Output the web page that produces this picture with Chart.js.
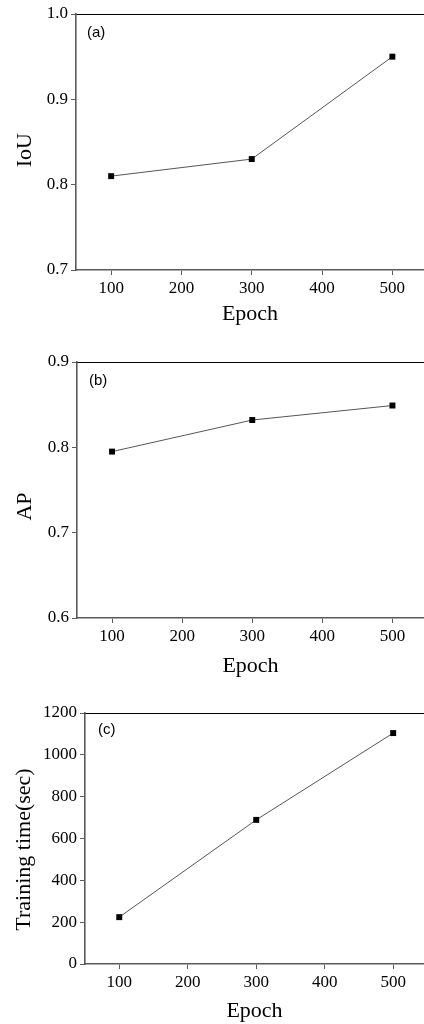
<!DOCTYPE html>
<html>
<head>
<meta charset="utf-8">
<script src="https://cdn.jsdelivr.net/npm/chart.js@4/dist/chart.umd.min.js"></script>
<style>
    html, body { margin: 0; padding: 0; background: #fff; }
    body { width: 424px; height: 1024px; position: relative; overflow: hidden; }
    .chartBox { position: absolute; left: 0; width: 424px; }
</style>
</head>
<body>
<div class="chartBox" id="boxA" style="top:0px;height:340px"><canvas id="chartA"></canvas></div>
<div class="chartBox" id="boxB" style="top:340px;height:340px"><canvas id="chartB"></canvas></div>
<div class="chartBox" id="boxC" style="top:680px;height:344px"><canvas id="chartC"></canvas></div>
<script>
// data
const epochs = [100, 300, 500];
const epochTicks = [100, 200, 300, 400, 500];
const iouVals = [0.81, 0.83, 0.95];
const iouTicks = [0.7, 0.8, 0.9, 1.0];
const apVals = [0.795, 0.832, 0.849];
const apTicks = [0.6, 0.7, 0.8, 0.9];
const timeVals = [224, 689, 1104];
const timeTicks = [0, 200, 400, 600, 800, 1000, 1200];

const serif = "'Liberation Serif', 'Times New Roman', serif";
const axisGray = "#5a5a5a";

// panel label "(a)" etc drawn in the corner of the plot
const panelLabel = {
    id: "panelLabel",
    afterDraw(chart, args, opts) {
        const ctx = chart.ctx;
        ctx.save();
        ctx.font = "15px 'Liberation Sans', Arial, sans-serif";
        ctx.fillStyle = "#000";
        ctx.textBaseline = "middle";
        ctx.fillText(opts.text, chart.chartArea.left + opts.dx, chart.chartArea.top + opts.dy);
        ctx.restore();
    }
};

function makePanel(canvasId, opt) {
    const points = epochs.map((e, i) => ({ x: e, y: opt.vals[i] }));
    return new Chart(canvasId, {
        type: "line",
        data: {
            datasets: [{
                data: points,
                borderColor: "#555",
                borderWidth: 1,
                pointStyle: "rect",
                pointRadius: 4.2,
                pointBackgroundColor: "#000",
                pointBorderColor: "#000",
                pointBorderWidth: 0,
                tension: 0
            }]
        },
        plugins: [panelLabel],
        options: {
            responsive: true,
            maintainAspectRatio: false,
            animation: false,
            layout: { autoPadding: false, padding: { top: opt.padTop, left: 0, right: 0, bottom: 0 } },
            plugins: {
                legend: { display: false },
                tooltip: { enabled: false },
                panelLabel: { text: opt.label, dx: opt.labelDx, dy: opt.labelDy }
            },
            scales: {
                x: {
                    type: "linear",
                    position: "bottom",
                    min: 50,
                    max: 545,
                    afterBuildTicks: (scale) => { scale.ticks = epochTicks.map(v => ({ value: v })); },
                    afterFit: (scale) => {
                        scale.height = opt.xAxisH;
                        scale.paddingRight = 0; // let the plot run off the right edge like the figure
                    },
                    grid: { display: true, drawOnChartArea: false, drawTicks: true, tickLength: 5, color: axisGray, lineWidth: 1 },
                    border: { display: true, color: axisGray, width: 1.6 },
                    ticks: { color: "#000", padding: 3, font: { family: serif, size: 17 }, maxRotation: 0 },
                    title: { display: true, text: "Epoch", color: "#000", font: { family: serif, size: 22 }, padding: { top: 0, bottom: opt.xTitlePad } }
                },
                xTop: {
                    type: "linear",
                    position: "top",
                    afterFit: (scale) => { scale.height = 0; scale.paddingRight = 0; },
                    ticks: { display: false },
                    grid: { display: false },
                    border: { display: true, color: "#000", width: 1 }
                },
                y: {
                    type: "linear",
                    min: opt.min,
                    max: opt.max,
                    afterBuildTicks: (scale) => { scale.ticks = opt.ticks.map(v => ({ value: v })); },
                    afterFit: (scale) => { scale.width = opt.yAxisW; },
                    grid: { display: true, drawOnChartArea: false, drawTicks: true, tickLength: 5, color: axisGray, lineWidth: 1 },
                    border: { display: true, color: axisGray, width: 1.6 },
                    ticks: { color: "#000", padding: 3, font: { family: serif, size: 17 }, callback: opt.fmt },
                    title: { display: true, text: opt.title, color: "#000", font: { family: serif, size: 22 }, padding: { top: opt.yTitlePad, bottom: 0 } }
                }
            }
        }
    });
}

makePanel("chartA", {
    vals: iouVals, ticks: iouTicks, min: 0.7, max: 1.0,
    fmt: (v) => v.toFixed(1),
    title: "IoU\u00a0\u00a0\u00a0", label: "(a)", labelDx: 11, labelDy: 19,
    padTop: 14, xAxisH: 70, xTitlePad: 13, yAxisW: 76, yTitlePad: 12
});
makePanel("chartB", {
    vals: apVals, ticks: apTicks, min: 0.6, max: 0.9,
    fmt: (v) => v.toFixed(1),
    title: "AP\u00a0\u00a0\u00a0\u00a0\u00a0\u00a0", label: "(b)", labelDx: 12, labelDy: 19,
    padTop: 22, xAxisH: 62, xTitlePad: 1, yAxisW: 77, yTitlePad: 12
});
makePanel("chartC", {
    vals: timeVals, ticks: timeTicks, min: 0, max: 1200,
    fmt: (v) => String(v),
    title: "Training time(sec)\u00a0\u00a0\u00a0\u00a0", label: "(c)", labelDx: 13, labelDy: 17,
    padTop: 33, xAxisH: 60, xTitlePad: 0, yAxisW: 85, yTitlePad: 11
});
</script>
</body>
</html>
